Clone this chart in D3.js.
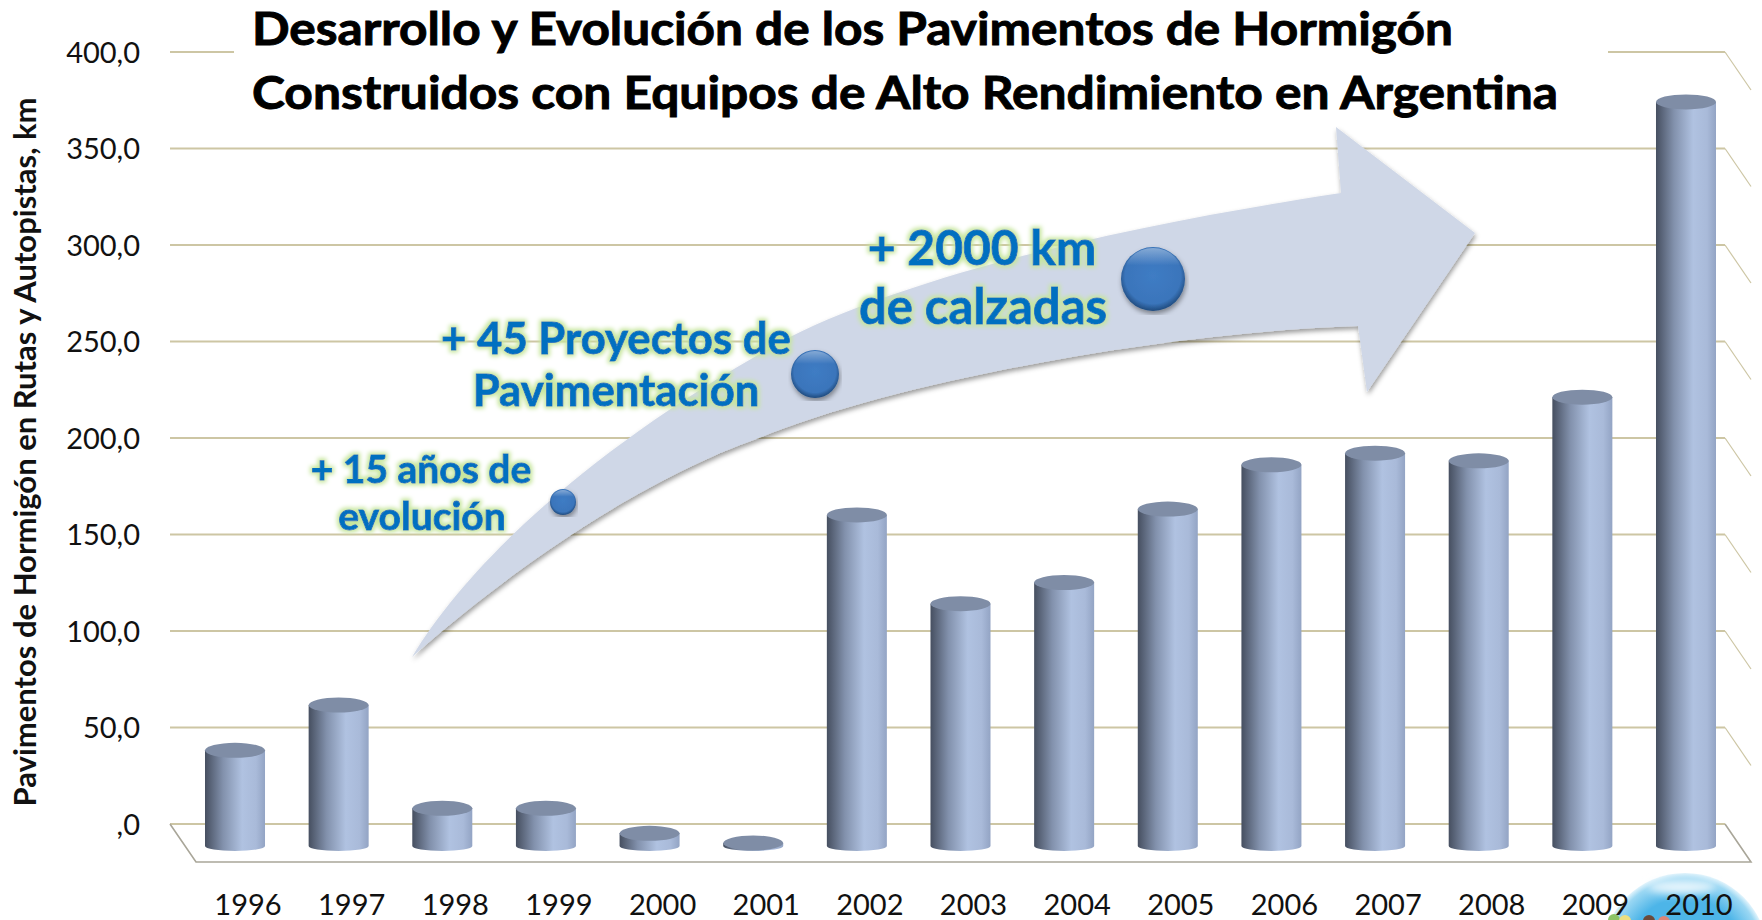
<!DOCTYPE html>
<html lang="es">
<head>
<meta charset="utf-8">
<title>Pavimentos de Hormigón</title>
<script src="https://d3js.org/d3.v7.min.js"></script>
<style>
    html, body { margin: 0; padding: 0; background: white; overflow: hidden; }
    svg { display: block; }
    text { font-family: Lato, "Open Sans", sans-serif; }
</style>
</head>
<body>
<div id="chart"></div>
<script>
    // values
    const years = ["1996","1997","1998","1999","2000","2001","2002","2003","2004","2005","2006","2007","2008","2009","2010"];
    const km = [48, 71.5, 18, 18, 5, 0, 170, 124, 135, 173, 196, 202, 198, 231, 384];
    const yTicks = [0, 50, 100, 150, 200, 250, 300, 350, 400];
    const titleLines = ["Desarrollo y Evolución de los Pavimentos de Hormigón", "Construidos con Equipos de Alto Rendimiento en Argentina"];
    const titleWidths = [1201, 1306];
    const yAxisTitle = "Pavimentos de Hormigón en Rutas y Autopistas, km";

    // set the dimensions of the graph
    var width = 1762, height = 920;
    var left = 170, right = 1725, top0 = 52, bottom0 = 824;
    var depthX = 26, depthY = 38;

    var svg = d3.select("#chart").append("svg")
        .attr("width", width)
        .attr("height", height);

    var defs = svg.append("defs");

    // cylinder body shading
    var grad = defs.append("linearGradient").attr("id", "cyl");
    grad.append("stop").attr("offset", "0%").attr("stop-color", "#464f60");
    grad.append("stop").attr("offset", "30%").attr("stop-color", "#8291ac");
    grad.append("stop").attr("offset", "62%").attr("stop-color", "#b0c2e1");
    grad.append("stop").attr("offset", "85%").attr("stop-color", "#a9bad9");
    grad.append("stop").attr("offset", "100%").attr("stop-color", "#93a4c4");

    // ball shading
    var ball = defs.append("radialGradient").attr("id", "ball")
        .attr("cx", "50%").attr("cy", "45%").attr("r", "56%");
    ball.append("stop").attr("offset", "0%").attr("stop-color", "#3f7cc4");
    ball.append("stop").attr("offset", "78%").attr("stop-color", "#3a75bb");
    ball.append("stop").attr("offset", "100%").attr("stop-color", "#1d4677");

    var shine = defs.append("linearGradient").attr("id", "shine")
        .attr("x1", 0).attr("y1", 0).attr("x2", 0).attr("y2", 1);
    shine.append("stop").attr("offset", "0%").attr("stop-color", "#fff").attr("stop-opacity", 0.38);
    shine.append("stop").attr("offset", "28%").attr("stop-color", "#fff").attr("stop-opacity", 0);

    // globe in the corner
    var globe = defs.append("radialGradient").attr("id", "globe")
        .attr("cx", "50%").attr("cy", "50%").attr("r", "50%");
    globe.append("stop").attr("offset", "70%").attr("stop-color", "#4db5e8");
    globe.append("stop").attr("offset", "93%").attr("stop-color", "#9ad7f3");
    globe.append("stop").attr("offset", "100%").attr("stop-color", "#e2f4fc");

    var blur = defs.append("filter").attr("id", "blur")
        .attr("x", "-30%").attr("y", "-60%").attr("width", "160%").attr("height", "220%");
    blur.append("feGaussianBlur").attr("stdDeviation", 4);

    // green glow behind the blue labels
    var glow = defs.append("filter").attr("id", "glow")
        .attr("x", "-10%").attr("y", "-30%").attr("width", "120%").attr("height", "160%");
    glow.append("feMorphology").attr("in", "SourceAlpha").attr("operator", "dilate").attr("radius", 2).attr("result", "fat");
    glow.append("feGaussianBlur").attr("in", "fat").attr("stdDeviation", 2).attr("result", "blur");
    glow.append("feFlood").attr("flood-color", "#c6e69c").attr("result", "col");
    glow.append("feComposite").attr("in", "col").attr("in2", "blur").attr("operator", "in").attr("result", "halo");
    var m = glow.append("feMerge");
    m.append("feMergeNode").attr("in", "halo");
    m.append("feMergeNode").attr("in", "SourceGraphic");

    // soft shadow under the arrow
    var shadow = defs.append("filter").attr("id", "shadow")
        .attr("x", "-5%").attr("y", "-5%").attr("width", "110%").attr("height", "110%");
    shadow.append("feDropShadow").attr("dx", 1).attr("dy", 3).attr("stdDeviation", 2.5)
        .attr("flood-color", "#000").attr("flood-opacity", 0.4);

    // scales
    var y = d3.scaleLinear().domain([0, 400]).range([bottom0, top0]);
    var x = d3.scaleBand().domain(years).range([205, 1716]).paddingInner(0.421).paddingOuter(0);

    // corner logo sits behind the axis labels
    var logo = svg.append("g");
    logo.append("circle")
        .attr("cx", 1685).attr("cy", 956).attr("r", 83)
        .attr("fill", "url(#globe)");
    logo.append("ellipse")
        .attr("cx", 1682).attr("cy", 887).attr("rx", 34).attr("ry", 7)
        .attr("fill", "#e8f6fd").attr("filter", "url(#blur)");
    const blobs = [[1614, 920, 6, "#8cc466"], [1625, 921, 6, "#ecdf80"], [1649, 921, 6, "#6b4a3a"], [1664, 922, 6, "#dd8576"]];
    logo.selectAll("circle.blob").data(blobs).enter().append("circle")
        .attr("class", "blob")
        .attr("cx", d => d[0]).attr("cy", d => d[1]).attr("r", d => d[2])
        .attr("fill", d => d[3]);

    // gridlines and side wall
    var grid = svg.append("g").attr("stroke", "#cdc6a4").attr("fill", "none");
    grid.selectAll("line.h").data(yTicks).enter().append("line")
        .attr("class", "h")
        .attr("x1", left).attr("x2", right)
        .attr("y1", d => y(d)).attr("y2", d => y(d))
        .attr("stroke-width", 2);
    grid.selectAll("line.d").data(yTicks.slice(1)).enter().append("line")
        .attr("class", "d")
        .attr("x1", right).attr("x2", right + depthX)
        .attr("y1", d => y(d)).attr("y2", d => y(d) + depthY)
        .attr("stroke-width", 1.2);

    // floor
    svg.append("path")
        .attr("d", d3.line()([[left, y(0)], [left + depthX, y(0) + depthY], [right + depthX, y(0) + depthY], [right, y(0)]]))
        .attr("fill", "none")
        .attr("stroke", "#a9a699")
        .attr("stroke-width", 1.6);

    // y axis labels
    svg.append("g")
        .attr("transform", "translate(140,1)")
        .call(d3.axisLeft(y).tickValues(yTicks).tickSize(0).tickPadding(0)
            .tickFormat(d => d === 0 ? ",0" : d + ",0"))
        .call(g => g.select(".domain").remove())
        .attr("font-size", 29)
        .selectAll("text").attr("fill", "#111");

    // x axis labels, pushed right because the floor is drawn in depth
    svg.append("g")
        .attr("transform", "translate(13,894)")
        .call(d3.axisBottom(x).tickSize(0).tickPadding(0))
        .call(g => g.select(".domain").remove())
        .attr("font-size", 29)
        .selectAll("text").attr("fill", "#111");

    // y axis title
    svg.append("text")
        .attr("transform", "translate(36,452) rotate(-90)")
        .attr("text-anchor", "middle")
        .attr("font-size", 31)
        .attr("font-weight", 700)
        .attr("fill", "#111")
        .text(yAxisTitle);

    // cylinders: centre of base sits half way across the floor
    var shift = depthY / 2;
    var ry = 7.5;
    var bars = svg.selectAll("g.bar").data(years).enter().append("g").attr("class", "bar");
    bars.append("path")
        .attr("fill", "url(#cyl)")
        .attr("d", function(d, i) {
            var x0 = x(d), x1 = x0 + x.bandwidth(), t = y(km[i]) + shift, b = y(0) + shift + 3;
            return "M" + x0 + "," + t + "L" + x0 + "," + b +
                "A" + (x.bandwidth() / 2) + ",5 0 0 0 " + x1 + "," + b + "L" + x1 + "," + t + "Z";
        });
    bars.append("ellipse")
        .attr("cx", d => x(d) + x.bandwidth() / 2)
        .attr("cy", (d, i) => y(km[i]) + shift)
        .attr("rx", x.bandwidth() / 2)
        .attr("ry", ry)
        .attr("fill", "#7f8da6");

    // big curved arrow
    svg.append("path")
        .attr("d", "M412,657 C470,560 600,440 790,337 C930,268 1150,222 1341,193 L1336,127 L1475,233 L1367,392 L1358,326 C1170,332 900,380 759,438 C640,480 510,570 412,657 Z")
        .attr("fill", "#cfd7e7")
        .attr("filter", "url(#shadow)");

    // white plate behind the title
    svg.append("rect")
        .attr("x", 234).attr("y", 0).attr("width", 1374).attr("height", 118)
        .attr("fill", "white");
    svg.selectAll("text.title").data(titleLines).enter().append("text")
        .attr("class", "title")
        .attr("x", 252)
        .attr("y", (d, i) => 45 + i * 64)
        .attr("font-size", 45)
        .attr("font-weight", 700)
        .attr("textLength", (d, i) => titleWidths[i])
        .attr("lengthAdjust", "spacingAndGlyphs")
        .attr("fill", "black")
        .attr("stroke", "black")
        .attr("stroke-width", 0.9)
        .text(d => d);

    // balls on the arrow
    const balls = [[563, 502, 13], [815, 374, 24], [1153, 279, 32]];
    svg.selectAll("circle.ball").data(balls).enter().append("circle")
        .attr("class", "ball")
        .attr("cx", d => d[0]).attr("cy", d => d[1]).attr("r", d => d[2])
        .attr("fill", "url(#ball)")
        .attr("filter", "url(#shadow)");
    svg.selectAll("circle.shine").data(balls).enter().append("circle")
        .attr("class", "shine")
        .attr("cx", d => d[0]).attr("cy", d => d[1]).attr("r", d => d[2] - 1)
        .attr("fill", "url(#shine)");

    // blue notes
    const notes = [
        { t: "+ 15 años de", x: 421, y: 483, s: 39 },
        { t: "evolución", x: 422, y: 530, s: 39 },
        { t: "+ 45 Proyectos de", x: 616, y: 354, s: 43.7 },
        { t: "Pavimentación", x: 616, y: 406, s: 43.7 },
        { t: "+ 2000 km", x: 982, y: 265, s: 48 },
        { t: "de calzadas", x: 983, y: 324, s: 49 }
    ];
    svg.selectAll("text.note").data(notes).enter().append("text")
        .attr("class", "note")
        .attr("x", d => d.x).attr("y", d => d.y)
        .attr("text-anchor", "middle")
        .attr("font-size", d => d.s)
        .attr("font-weight", 700)
        .attr("fill", "#0070c0")
        .attr("stroke", "#0070c0")
        .attr("stroke-width", 0.9)
        .attr("filter", "url(#glow)")
        .text(d => d.t);
</script>
</body>
</html>
